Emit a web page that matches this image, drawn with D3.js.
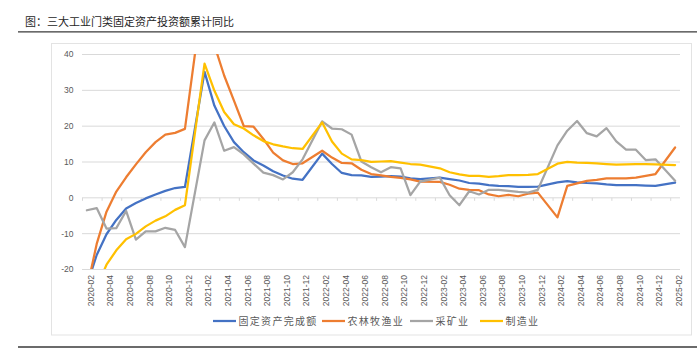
<!DOCTYPE html>
<html>
<head>
<meta charset="utf-8">
<script src="https://cdn.jsdelivr.net/npm/d3@7/dist/d3.min.js"></script>
<style>
  html, body { margin: 0; padding: 0; background: #fff; }
  svg { display: block; }
</style>
</head>
<body>
<svg id="chart" width="697" height="349"></svg>
<script>
const title = "图：三大工业门类固定资产投资额累计同比";

const categories = [
  "2020-02","2020-03","2020-04","2020-05","2020-06","2020-07","2020-08","2020-09","2020-10","2020-11","2020-12",
  "2021-01","2021-02","2021-03","2021-04","2021-05","2021-06","2021-07","2021-08","2021-09","2021-10","2021-11","2021-12",
  "2022-01","2022-02","2022-03","2022-04","2022-05","2022-06","2022-07","2022-08","2022-09","2022-10","2022-11","2022-12",
  "2023-01","2023-02","2023-03","2023-04","2023-05","2023-06","2023-07","2023-08","2023-09","2023-10","2023-11","2023-12",
  "2024-01","2024-02","2024-03","2024-04","2024-05","2024-06","2024-07","2024-08","2024-09","2024-10","2024-11","2024-12",
  "2025-01","2025-02"
];

const seriesNames = ["固定资产完成额", "农林牧渔业", "采矿业", "制造业"];

const fixedAsset = [
  -24.5, -16.1, -10.3, -6.3, -3.1, -1.6, -0.3, 0.8, 1.8, 2.6, 2.9,
  null, 35.0, 25.6, 19.9, 15.4, 12.6, 10.3, 8.9, 7.3, 6.1, 5.2, 4.9,
  null, 12.2, 9.3, 6.8, 6.2, 6.1, 5.7, 5.8, 5.9, 5.8, 5.3, 5.1,
  null, 5.5, 5.1, 4.7, 4.0, 3.8, 3.4, 3.2, 3.1, 2.9, 2.9, 3.0,
  null, 4.2, 4.5, 4.2, 4.0, 3.9, 3.6, 3.4, 3.4, 3.4, 3.3, 3.2,
  null, 4.1
];

const agriculture = [
  -25.6, -13.0, -4.0, 1.6, 5.6, 9.2, 12.6, 15.4, 17.5, 18.0, 19.1,
  null, 60.0, 42.5, 34.0, 27.0, 19.9, 19.7, 16.3, 12.5, 10.3, 9.3, 9.5,
  null, 13.0, 11.1, 9.6, 9.5, 7.7, 6.5, 6.1, 5.7, 5.4, 5.0, 4.4,
  null, 4.3, 3.5, 2.4, 2.1, 2.0, 0.8, 0.3, 0.7, 0.3, 1.0, 1.3,
  null, -5.6, 3.2, 3.9, 4.6, 4.9, 5.3, 5.3, 5.3, 5.5, 6.0, 6.5,
  null, 13.9
];

const mining = [
  -3.6, -3.0, -8.7, -8.6, -3.8, -11.8, -9.5, -9.5, -8.5, -9.1, -13.9,
  null, 15.9, 20.9, 13.0, 14.0, 12.0, 9.4, 6.9, 6.2, 5.0, 7.0, 10.6,
  null, 21.2, 19.2, 19.0, 17.5, 10.0, 8.4, 7.0, 8.4, 8.1, 0.6, 4.4,
  null, 5.5, 0.6, -2.2, 1.7, 0.8, 2.1, 2.1, 1.8, 1.5, 1.3, 2.1,
  null, 14.5, 18.6, 21.3, 17.9, 17.0, 19.3, 15.6, 13.3, 13.3, 10.4, 10.6,
  null, 4.6
];

const manufacturing = [
  -31.5, -25.2, -18.8, -14.8, -11.7, -10.2, -8.1, -6.5, -5.3, -3.5, -2.2,
  null, 37.3, 29.8, 23.8, 20.4, 19.2, 17.3, 15.7, 14.8, 14.2, 13.7, 13.5,
  null, 20.9, 15.6, 12.2, 10.6, 10.4, 9.9, 10.0, 10.1, 9.7, 9.3, 9.1,
  null, 8.1, 7.0, 6.4, 6.0, 6.0, 5.7, 5.9, 6.2, 6.2, 6.3, 6.5,
  null, 9.4, 9.9, 9.7, 9.6, 9.5, 9.3, 9.1, 9.2, 9.3, 9.3, 9.2,
  null, 9.0
];

const yTicks = [-20, -10, 0, 10, 20, 30, 40];
const colors = ["#4472C4", "#ED7D31", "#A5A5A5", "#FFC000"];

const svg = d3.select("#chart");
const W = 697, H = 349;
const plot = { left: 82, right: 680, top: 54, bottom: 269 };

const cjk = "'Noto Sans CJK SC', 'Microsoft YaHei', sans-serif";
const num = "'Liberation Sans', Arial, sans-serif";

// Title and rules
svg.append("text").attr("x", 25).attr("y", 25.5)
  .attr("font-family", cjk).attr("font-size", 11).attr("fill", "#262626")
  .text(title);
svg.append("line").attr("x1", 18).attr("x2", W).attr("y1", 31.8).attr("y2", 31.8)
  .attr("stroke", "#3a3a3a").attr("stroke-width", 1.3);
svg.append("line").attr("x1", 18).attr("x2", W).attr("y1", 347).attr("y2", 347)
  .attr("stroke", "#3a3a3a").attr("stroke-width", 1.3);

// Chart frame
svg.append("rect").attr("x", 51.5).attr("y", 43.5).attr("width", 640).attr("height", 291.5)
  .attr("fill", "none").attr("stroke", "#e3e3e3").attr("stroke-width", 1);

const x = d3.scaleBand().domain(categories).range([plot.left, plot.right]).padding(0);
const bw = x.bandwidth();
const xc = c => x(c) + bw / 2;
const y = d3.scaleLinear().domain([-20, 40]).range([plot.bottom, plot.top]);

// Gridlines
svg.append("g").selectAll("line").data(yTicks).join("line")
  .attr("x1", plot.left).attr("x2", plot.right)
  .attr("y1", d => y(d) + 0.5).attr("y2", d => y(d) + 0.5)
  .attr("stroke", "#d9d9d9").attr("stroke-width", 1);

// Y axis labels
const yAxis = d3.axisLeft(y).tickValues(yTicks).tickSize(0).tickPadding(0).tickFormat(d3.format("d"));
const gy = svg.append("g").attr("transform", `translate(${73.5},0)`).call(yAxis);
gy.select(".domain").remove();
gy.selectAll("text").attr("font-family", num).attr("font-size", 8.5).attr("fill", "#595959")
  .attr("x", 0).attr("dy", "0.35em").text(d => d < 0 ? "-" + Math.abs(d) : d);

// Category axis tick marks at y=0 (every 2 categories)
const tickCats = categories.filter((c, i) => i % 2 === 0);
svg.append("g").selectAll("line").data(tickCats).join("line")
  .attr("x1", d => x(d) + 0.5).attr("x2", d => x(d) + 0.5)
  .attr("y1", y(0) + 0.5).attr("y2", y(0) + 3.5)
  .attr("stroke", "#d9d9d9").attr("stroke-width", 1);

// X labels (rotated)
const xAxis = d3.axisBottom(x).tickValues(tickCats).tickSize(0).tickPadding(0);
const gx = svg.append("g").attr("transform", `translate(0,${plot.bottom})`).call(xAxis);
gx.select(".domain").remove();
gx.selectAll(".tick text")
  .attr("font-family", num).attr("font-size", 8.5).attr("fill", "#595959")
  .attr("transform", "rotate(-90)")
  .attr("text-anchor", "end")
  .attr("x", -6).attr("y", 0).attr("dy", "0.8em");

// Clip
svg.append("clipPath").attr("id", "clip").append("rect")
  .attr("x", plot.left - 2).attr("y", plot.top).attr("width", plot.right - plot.left + 4)
  .attr("height", plot.bottom - plot.top);

const seriesData = [fixedAsset, agriculture, mining, manufacturing];
const line = d3.line()
  .defined(d => d.v !== null)
  .x(d => xc(d.c)).y(d => y(d.v));

const lines = svg.append("g").attr("clip-path", "url(#clip)");
seriesData.forEach((vals, si) => {
  const pts = vals.map((v, i) => ({ c: categories[i], v })).filter(d => d.v !== null);
  lines.append("path").datum(pts)
    .attr("d", line)
    .attr("fill", "none")
    .attr("stroke", colors[si])
    .attr("stroke-width", 2.25)
    .attr("stroke-linejoin", "round")
    .attr("stroke-linecap", "round");
});

// Legend
const legendItems = [
  { x: 213, name: seriesNames[0], c: colors[0] },
  { x: 322, name: seriesNames[1], c: colors[1] },
  { x: 410, name: seriesNames[2], c: colors[2] },
  { x: 480, name: seriesNames[3], c: colors[3] }
];
const lg = svg.append("g");
legendItems.forEach(it => {
  lg.append("line").attr("x1", it.x).attr("x2", it.x + 23).attr("y1", 321).attr("y2", 321)
    .attr("stroke", it.c).attr("stroke-width", 2.25);
  lg.append("text").attr("x", it.x + 25.5).attr("y", 324.5)
    .attr("font-family", cjk).attr("font-size", 10).attr("letter-spacing", 1.3)
    .attr("fill", "#595959").text(it.name);
});
</script>
</body>
</html>
